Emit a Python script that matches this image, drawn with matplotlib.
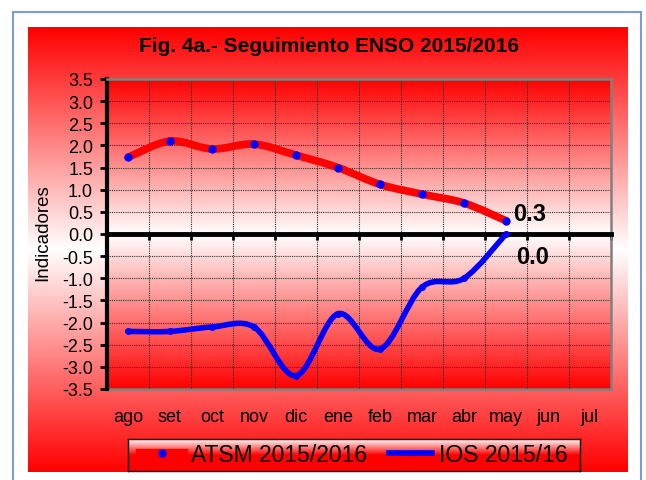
import numpy as np
import matplotlib
matplotlib.use("Agg")
import matplotlib.pyplot as plt
from matplotlib.path import Path
from matplotlib.patches import PathPatch, Rectangle
from matplotlib.lines import Line2D
from matplotlib.ticker import FormatStrFormatter

plt.rcParams["font.family"] = ["Liberation Sans", "DejaVu Sans"]
plt.rcParams["axes.unicode_minus"] = False

# ---------- data ----------
months = ["ago", "set", "oct", "nov", "dic", "ene", "feb", "mar", "abr", "may", "jun", "jul"]
atsm = [1.73, 2.1, 1.92, 2.03, 1.78, 1.5, 1.12, 0.9, 0.7, 0.3]
ios = [-2.2, -2.2, -2.1, -2.1, -3.2, -1.8, -2.6, -1.2, -1.0, 0.0]
atsm_label = "ATSM 2015/2016"
ios_label = "IOS 2015/16"
title = "Fig. 4a.- Seguimiento ENSO 2015/2016"

W, H = 646, 481


def fx(px):
    return px / W


def fy(py):
    return 1 - py / H


def smooth_path(xs, ys):
    """Excel-like smoothed line: Catmull-Rom segments as cubic Beziers."""
    pts = np.column_stack([xs, ys]).astype(float)
    n = len(pts)
    verts = [pts[0]]
    codes = [Path.MOVETO]
    for i in range(n - 1):
        p0 = pts[i - 1] if i > 0 else pts[i]
        p1, p2 = pts[i], pts[i + 1]
        p3 = pts[i + 2] if i + 2 < n else pts[i + 1]
        verts += [p1 + (p2 - p0) / 6, p2 - (p3 - p1) / 6, p2]
        codes += [Path.CURVE4] * 3
    return Path(verts, codes)


def red_white(t):
    t = np.clip(t, 0, 1)[:, None, None]
    return np.concatenate([np.ones_like(t), 1 - t, 1 - t], axis=2)


fig = plt.figure(figsize=(W / 100, H / 100), dpi=100)

# outer light-blue frame
fig.patches.append(Rectangle((fx(13), -0.1), fx(641) - fx(13), fy(13) + 0.1,
                             transform=fig.transFigure, fill=False,
                             edgecolor="#7f9ccf", lw=1.5))

# chart area background (red -> white -> red)
bg = fig.add_axes([fx(28), fy(473), fx(627) - fx(28), fy(28) - fy(473)])
yy = np.linspace(0, 1, 400)
bg.imshow(red_white(np.abs(yy - 0.5) / 0.5), extent=[0, 1, 0, 1],
          aspect="auto", origin="lower")
bg.set_axis_off()

# plot area
ax = fig.add_axes([fx(107), fy(390), fx(611) - fx(107), fy(80) - fy(390)])
yv = np.linspace(-3.5, 3.5, 400)
ax.imshow(red_white(np.abs(yv) / 3.5), extent=[-0.5, 11.5, -3.5, 3.5],
          aspect="auto", origin="lower", zorder=0)
ax.set_xlim(-0.5, 11.5)
ax.set_ylim(-3.5, 3.5)

x = np.arange(len(atsm))
ax.add_patch(PathPatch(smooth_path(x, atsm), facecolor="none", edgecolor="red",
                       lw=5.5, capstyle="round", joinstyle="round", zorder=3))
ax.plot(x, atsm, "o", color="blue", ms=5, zorder=4)
ax.add_patch(PathPatch(smooth_path(x, ios), facecolor="none", edgecolor="blue",
                       lw=4, capstyle="round", joinstyle="round", zorder=3))
ax.plot(x, ios, "o", color="blue", ms=4, zorder=4)

ax.annotate(f"{atsm[-1]:.1f}", xy=(x[-1], atsm[-1]), xytext=(17, 5.5),
            textcoords="offset points", ha="center", va="center",
            fontsize=17, fontweight="bold")
ax.annotate(f"{ios[-1]:.1f}", xy=(x[-1], ios[-1]), xytext=(19, -16),
            textcoords="offset points", ha="center", va="center",
            fontsize=17, fontweight="bold")

# axes styling
ax.set_yticks(np.arange(-3.5, 3.51, 0.5))
ax.yaxis.set_major_formatter(FormatStrFormatter("%.1f"))
ax.tick_params(axis="y", direction="out", length=5, width=2, color="black",
               labelsize=13, pad=5)
ax.set_xticks(np.arange(-0.5, 11.6, 1.0))
ax.tick_params(axis="x", direction="out", length=4, width=2, color="black",
               labelbottom=False)
ax.spines["bottom"].set_position(("data", 0))
ax.spines["bottom"].set_color("black")
ax.spines["bottom"].set_linewidth(3.5)
ax.spines["left"].set_color("black")
ax.spines["left"].set_linewidth(3)
for side in ("top", "right"):
    ax.spines[side].set_color("#808080")
    ax.spines[side].set_linewidth(1.8)
ax.set_axisbelow(True)
ax.grid(True, ls=(0, (1, 1)), color="#303030", lw=0.8)

sec = ax.secondary_xaxis(0.0)
sec.set_xticks(np.arange(len(months)), labels=months)
sec.tick_params(length=0, pad=14, labelsize=13)
sec.spines["bottom"].set_color("#808080")
sec.spines["bottom"].set_linewidth(1.8)

fig.text(fx(43), fy(233), "Indicadores", rotation=90, ha="center", va="center",
         fontsize=13.5)
fig.text(fx(329), fy(46), title, ha="center", va="center", fontsize=15,
         fontweight="bold")

# legend box with its own gradient
lax = fig.add_axes([fx(128), fy(472), fx(580) - fx(128), fy(440) - fy(472)])
ly = np.linspace(0, 1, 100)
lax.imshow(red_white((1 - ly) / 0.5), extent=[0, 1, 0, 1], aspect="auto",
           origin="lower")
lax.set_xticks([])
lax.set_yticks([])
for s in lax.spines.values():
    s.set_color("black")
    s.set_linewidth(1)
handles = [
    Line2D([], [], color="red", lw=6, marker="o", mfc="blue", mec="blue", ms=5),
    Line2D([], [], color="blue", lw=4, marker="o", mfc="blue", mec="blue", ms=3),
]
lax.legend(handles, [atsm_label, ios_label], loc="center", ncol=2, frameon=False,
           fontsize=16.5, handlelength=1.9, handletextpad=0.3, columnspacing=0.95,
           numpoints=1, borderpad=0, borderaxespad=0)

fig.savefig("out.png", dpi=100)
